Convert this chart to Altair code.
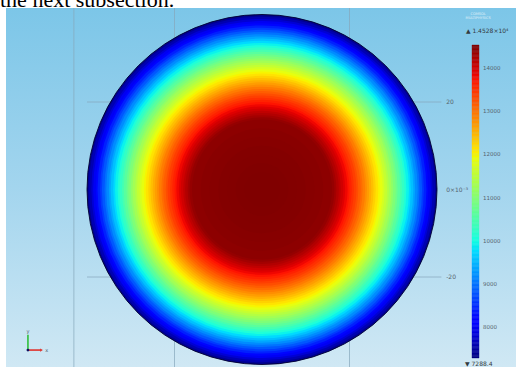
import math
import numpy as np
import pandas as pd
import altair as alt

# ---- field values: temperature [K] on concentric rings of the disk ----
T_MIN, T_MAX = 7288.4, 14528.0
ring_outer_mm = [2, 4, 6, 8, 10, 12, 14, 16] + [16.5 + 0.5 * i for i in range(48)]
ring_temp_K = [14528, 14525, 14519, 14511, 14500, 14486, 14469, 14449,
               14395, 14307, 14217, 14124, 14028, 13930, 13829, 13725,
               13618, 13509, 13398, 13283, 13166, 13047, 12924, 12799,
               12671, 12541, 12408, 12272, 12134, 11993, 11850, 11703,
               11554, 11403, 11248, 11091, 10932, 10770, 10605, 10437,
               10267, 10094, 9918, 9740, 9559, 9376, 9190, 9001,
               8809, 8615, 8418, 8219, 8016, 7812, 7604, 7394]
DISK_R_MM = 40.0

# axis / colorbar annotations
y_tick_mm = [20, 0, -20]
y_tick_text = ["20", "0×10⁻³", "-20"]
x_grid_mm = [-43, -20, 20]
cbar_ticks = [8000, 9000, 10000, 11000, 12000, 13000, 14000]

# jet colour map
jet_frac = [0, 0.11, 0.125, 0.34, 0.35, 0.375, 0.64, 0.65, 0.66, 0.89, 0.91, 1]
jet_col = ["#000080", "#0000ff", "#0000ff", "#00dbff", "#00e6f7", "#15ffe2",
           "#eeff08", "#f7f500", "#ffec00", "#ff1300", "#e80000", "#800000"]

# ---- layout (view in pixels, then mm) ----
W, H = 510, 359
PAD_L, PAD_T = 6, 8
PX = 4.375                     # pixels per mm
CX, CY = 256, 181.5            # origin inside the view
x_dom = [-CX / PX, (W - CX) / PX]
y_dom = [-(H - CY) / PX, CY / PX]
CB_TOP, CB_BOT = 37, 350       # colour bar ends inside the view
k = (T_MAX - T_MIN) / (CB_BOT - CB_TOP)
cb_dom = [T_MIN - (H - CB_BOT) * k, T_MAX + CB_TOP * k]
CB_X0, CB_X1 = 48.0, 49.6
CB_LABEL_X = 50.5

xs = alt.Scale(domain=x_dom, nice=False, zero=False)
ys = alt.Scale(domain=y_dom, nice=False, zero=False)
ycb = alt.Scale(domain=cb_dom, nice=False, zero=False)
cs = alt.Scale(domain=[T_MIN + f * (T_MAX - T_MIN) for f in jet_frac],
               range=jet_col, interpolate="rgb")
rs = alt.Scale(type="linear", domain=[0, DISK_R_MM], range=[0, DISK_R_MM * PX], zero=True)


def X(f):
    return alt.X(f, type="quantitative", scale=xs, axis=None)


def Y(f):
    return alt.Y(f, type="quantitative", scale=ys, axis=None)


def YC(f):
    return alt.Y(f, type="quantitative", scale=ycb, axis=None)


# page text running above the figure
page_text = alt.Chart(pd.DataFrame({"x": [x_dom[0] - PAD_L / PX], "y": [y_dom[1] + 1 / PX],
                                    "t": ["the next subsection."]})).mark_text(
    align="left", baseline="alphabetic", fontSize=22, font="Liberation Serif",
    color="black").encode(x=X("x"), y=Y("y"), text="t:N")

# background panel
bg = alt.Chart(pd.DataFrame({"x0": [x_dom[0]], "x1": [x_dom[1]],
                             "y0": [y_dom[0]], "y1": [y_dom[1]]})).mark_rect(
    fill=alt.Gradient(gradient="linear",
                      stops=[alt.GradientStop(color="#7cc6e8", offset=0),
                             alt.GradientStop(color="#a3d5ee", offset=0.5),
                             alt.GradientStop(color="#d0e8f4", offset=1)],
                      x1=0, x2=0, y1=0, y2=1)
).encode(x=X("x0"), x2="x1", y=Y("y0"), y2="y1")

grid_color = "#86a7ba"
vgrid = alt.Chart(pd.DataFrame({"x": x_grid_mm})).mark_rule(
    color=grid_color, strokeWidth=1, opacity=0.7).encode(x=X("x"))
hgrid = alt.Chart(pd.DataFrame({"y": [20, -20], "x0": [-40, -40], "x1": [41, 41]})).mark_rule(
    color=grid_color, strokeWidth=1, opacity=0.7).encode(x=X("x0"), x2="x1", y=Y("y"))

# disk: filled discs drawn from the rim inwards (no radial stacking)
rings_df = pd.DataFrame({"r": ring_outer_mm, "T": ring_temp_K, "cx": 0.0, "cy": 0.0})
rings_df = rings_df.iloc[::-1].reset_index(drop=True)
rings = alt.Chart(rings_df).mark_arc(strokeWidth=0).encode(
    x=X("cx"), y=Y("cy"),
    theta=alt.value(0), theta2=alt.value(2 * math.pi),
    radius=alt.Radius("r:Q", scale=rs, stack=None),
    color=alt.Color("T:Q", scale=cs, legend=None),
)
outline = alt.Chart(pd.DataFrame({"cx": [0.0], "cy": [0.0], "r": [DISK_R_MM]})).mark_arc(
    filled=False, stroke="#00002e", strokeWidth=0.9).encode(
    x=X("cx"), y=Y("cy"),
    theta=alt.value(0), theta2=alt.value(2 * math.pi),
    radius=alt.Radius("r:Q", scale=rs, stack=None))

label_font = "DejaVu Sans"
ylab = alt.Chart(pd.DataFrame({"y": y_tick_mm, "t": y_tick_text, "x": [42.1] * 3})).mark_text(
    align="left", baseline="middle", fontSize=6, font=label_font, color="#56636e").encode(
    x=X("x"), y=Y("y"), text="t:N")

# colour bar
edges = np.linspace(T_MIN, T_MAX, 241)
cb_df = pd.DataFrame({"lo": edges[:-1], "hi": edges[1:], "v": (edges[:-1] + edges[1:]) / 2,
                      "x0": CB_X0, "x1": CB_X1})
cbar = alt.Chart(cb_df).mark_rect(strokeWidth=0.4).encode(
    x=X("x0"), x2="x1", y=YC("lo"), y2="hi",
    color=alt.Color("v:Q", scale=cs, legend=None),
    stroke=alt.Stroke("v:Q", scale=cs, legend=None))
cb_lab = alt.Chart(pd.DataFrame({"v": cbar_ticks, "t": [str(v) for v in cbar_ticks],
                                 "x": CB_LABEL_X})).mark_text(
    align="left", baseline="middle", fontSize=5.5, font=label_font, color="#56636e").encode(
    x=X("x"), y=YC("v"), text="t:N")
cb_max = alt.Chart(pd.DataFrame({"v": [T_MAX], "x": [46.6], "t": ["▲ 1.4528×10⁴"]})).mark_text(
    align="left", baseline="middle", fontSize=6, dy=-14, font=label_font, color="#333a40").encode(
    x=X("x"), y=YC("v"), text="t:N")
cb_min = alt.Chart(pd.DataFrame({"v": [T_MIN], "x": [46.4], "t": ["▼ 7288.4"]})).mark_text(
    align="left", baseline="middle", fontSize=6, dy=6, font=label_font, color="#333a40").encode(
    x=X("x"), y=YC("v"), text="t:N")

# faint software badge, top right
badge = alt.Chart(pd.DataFrame({"x": [49.4, 49.4], "y": [40.2, 39.2],
                                "t": ["COMSOL", "MULTIPHYSICS"]})).mark_text(
    align="center", baseline="middle", fontSize=3.5, font=label_font, color="white",
    opacity=0.75).encode(x=X("x"), y=Y("y"), text="t:N")

# coordinate triad, bottom left
OX, OY = -53.5, -36.7
tri_x = alt.Chart(pd.DataFrame({"x0": [OX], "x1": [-50.6], "y": [OY]})).mark_rule(
    color="#e0302a", strokeWidth=1.6).encode(x=X("x0"), x2="x1", y=Y("y"))
tri_y = alt.Chart(pd.DataFrame({"x": [OX], "y0": [OY], "y1": [-33.2]})).mark_rule(
    color="#2fbf3a", strokeWidth=1.6).encode(x=X("x"), y=Y("y0"), y2="y1")
tri_head = alt.Chart(pd.DataFrame({"x": [-50.4], "y": [OY]})).mark_point(
    shape="triangle-right", filled=True, size=10, color="#e0302a", opacity=1).encode(
    x=X("x"), y=Y("y"))
tri_o = alt.Chart(pd.DataFrame({"x": [OX], "y": [OY]})).mark_point(
    shape="circle", filled=True, size=8, color="#101060", opacity=1).encode(
    x=X("x"), y=Y("y"))
tri_lab = alt.Chart(pd.DataFrame({"x": [-49.2, OX], "y": [OY, -32.4], "t": ["x", "y"]})).mark_text(
    align="center", baseline="middle", fontSize=5, font=label_font, color="#56636e").encode(
    x=X("x"), y=Y("y"), text="t:N")

chart = alt.layer(
    bg, vgrid, hgrid, rings, outline, ylab, cbar, cb_lab, cb_max, cb_min, badge,
    tri_x, tri_y, tri_head, tri_o, tri_lab, page_text
).resolve_scale(y="independent").properties(
    width=W, height=H,
    padding={"left": PAD_L, "top": PAD_T, "right": 0, "bottom": 0},
    autosize="none",
    background="white",
).configure_view(strokeWidth=0)

chart.save("out.html", embed_options={"renderer": "svg", "actions": False})
